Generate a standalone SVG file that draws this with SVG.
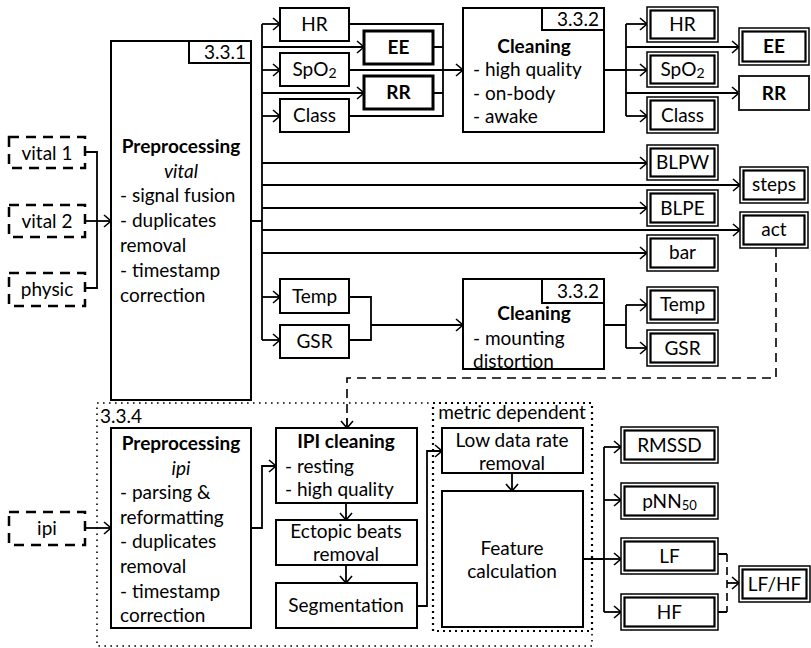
<svg xmlns="http://www.w3.org/2000/svg" width="811" height="648" viewBox="0 0 811 648">
  <style>
    .box { fill: #fff; stroke: #000; stroke-width: 2; }
    .bold-box { fill: #fff; stroke: #000; stroke-width: 3; }
    .out-o { fill: #fff; stroke: #000; stroke-width: 1.5; }
    .out-i { fill: none; stroke: #000; stroke-width: 2.2; }
    .inp { fill: #fff; stroke: #000; stroke-width: 2.5; stroke-dasharray: 10 7; }
    .wire { fill: none; stroke: #000; stroke-width: 1.8; }
    .arrow { fill: none; stroke: #000; stroke-width: 1.8; marker-end: url(#arr); }
    .dash { fill: none; stroke: #000; stroke-width: 1.6; stroke-dasharray: 9 6; }
    .dots { fill: none; stroke: #000; stroke-width: 1.6; stroke-dasharray: 1.6 4.4; }
    .dots-b { fill: none; stroke: #000; stroke-width: 2.2; stroke-dasharray: 2 4; }
    text { font-family: Lato, "Liberation Sans", sans-serif; font-size: 19px; fill: #000; }
    .c { text-anchor: middle; }
    .e { text-anchor: end; }
    .b { font-weight: bold; }
    .i { font-style: italic; }
  </style>
  <defs>
    <marker id="arr" markerUnits="userSpaceOnUse" markerWidth="12" markerHeight="14" refX="9" refY="7" orient="auto" overflow="visible">
      <path d="M2,1 L9,7 L2,13" fill="none" stroke="#000" stroke-width="1.6"/>
    </marker>
  </defs>

  <!-- section frames -->
  <g id="frames">
    <rect class="dots" x="97" y="403" width="495" height="243"/>
    <rect class="dots-b" x="433" y="403" width="159" height="228"/>
    <text x="100" y="423">3.3.4</text>
    <text x="512" y="419" class="c">metric dependent</text>
  </g>

  <!-- connectors -->
  <g id="connectors">
    <!-- raw inputs into vital preprocessing -->
    <path class="wire" d="M85,152 H97 V288 H85"/>
    <path class="arrow" d="M85,221 H111"/>
    <!-- vital preprocessing fan-out -->
    <path class="wire" d="M251,221 H262 M262,24 V340"/>
    <path class="arrow" d="M262,24 H280"/>
    <path class="arrow" d="M262,47 H364"/>
    <path class="arrow" d="M262,70 H280"/>
    <path class="arrow" d="M262,93 H364"/>
    <path class="arrow" d="M262,116 H280"/>
    <path class="arrow" d="M262,163 H647"/>
    <path class="arrow" d="M262,185 H740"/>
    <path class="arrow" d="M262,208 H647"/>
    <path class="arrow" d="M262,230 H740"/>
    <path class="arrow" d="M262,253 H647"/>
    <path class="arrow" d="M262,297 H280"/>
    <path class="arrow" d="M262,340 H280"/>
    <!-- collect vital signals into cleaning -->
    <path class="wire" d="M349,24 H443 V116 H349 M433,47 H443 M433,93 H443"/>
    <path class="arrow" d="M349,70 H463"/>
    <!-- cleaned vital signals -->
    <path class="wire" d="M604,70 H626 M626,24 V116"/>
    <path class="arrow" d="M626,24 H647"/>
    <path class="arrow" d="M626,47 H739"/>
    <path class="arrow" d="M626,70 H647"/>
    <path class="arrow" d="M626,93 H739"/>
    <path class="arrow" d="M626,116 H647"/>
    <!-- temp / gsr cleaning -->
    <path class="wire" d="M349,297 H371 V340 H349"/>
    <path class="arrow" d="M371,325 H463"/>
    <path class="wire" d="M604,325 H626 M626,305 V348"/>
    <path class="arrow" d="M626,305 H647"/>
    <path class="arrow" d="M626,348 H647"/>
    <!-- activity into ipi cleaning -->
    <path class="dash" d="M776,248 V378 H347 V420"/>
    <path class="arrow" d="M347,418 V428"/>
    <!-- ipi chain -->
    <path class="arrow" d="M85,528 H111"/>
    <path class="arrow" d="M251,528 H262 V466 H276"/>
    <path class="arrow" d="M346,503 V520"/>
    <path class="arrow" d="M346,565 V583"/>
    <path class="arrow" d="M417,606 H427 V451 H442"/>
    <path class="arrow" d="M512,473 V491"/>
    <!-- hrv features -->
    <path class="wire" d="M583,559 H604 M604,447 V612"/>
    <path class="arrow" d="M604,447 H621"/>
    <path class="arrow" d="M604,500 H621"/>
    <path class="arrow" d="M604,559 H621"/>
    <path class="arrow" d="M604,612 H621"/>
    <path class="wire" d="M718,554 H727 M718,612 H727"/>
    <path class="dash" d="M727,554 V612" style="stroke-dasharray: 8 5"/>
    <path class="arrow" d="M727,583 H739"/>
  </g>

  <!-- raw inputs -->
  <g id="vital1"><rect class="inp" x="9" y="137" width="76" height="31"/><text x="47" y="160" class="c">vital 1</text></g>
  <g id="vital2"><rect class="inp" x="9" y="205" width="76" height="32"/><text x="47" y="228" class="c">vital 2</text></g>
  <g id="physic"><rect class="inp" x="9" y="273" width="76" height="33"/><text x="47" y="296" class="c">physic</text></g>
  <g id="ipi"><rect class="inp" x="9" y="512" width="76" height="33"/><text x="47" y="535" class="c">ipi</text></g>

  <!-- vital preprocessing -->
  <g id="prep-vital">
    <rect class="box" x="111" y="41" width="140" height="359"/>
    <rect class="box" x="189" y="41" width="62" height="22"/>
    <text x="246" y="59" class="e">3.3.1</text>
    <text x="181" y="153" class="c b">Preprocessing</text>
    <text x="181" y="178" class="c i">vital</text>
    <text x="120" y="202">- signal fusion</text>
    <text x="120" y="227">- duplicates</text>
    <text x="120" y="252">removal</text>
    <text x="120" y="277">- timestamp</text>
    <text x="120" y="302">correction</text>
  </g>

  <!-- raw vital signals -->
  <g id="hr-raw"><rect class="box" x="280" y="8" width="69" height="33"/><text x="314.5" y="31" class="c">HR</text></g>
  <g id="spo2-raw"><rect class="box" x="280" y="53" width="69" height="33"/><text x="314.5" y="76" class="c">SpO<tspan font-size="14" dy="2">2</tspan></text></g>
  <g id="class-raw"><rect class="box" x="280" y="99" width="69" height="33"/><text x="314.5" y="122" class="c">Class</text></g>
  <g id="ee-raw"><rect class="bold-box" x="364" y="31" width="69" height="33"/><text x="398.5" y="54" class="c b">EE</text></g>
  <g id="rr-raw"><rect class="bold-box" x="364" y="76" width="69" height="33"/><text x="398.5" y="99" class="c b">RR</text></g>
  <g id="temp-raw"><rect class="box" x="280" y="279" width="69" height="34"/><text x="314.5" y="303" class="c">Temp</text></g>
  <g id="gsr-raw"><rect class="box" x="280" y="325" width="69" height="33"/><text x="314.5" y="348" class="c">GSR</text></g>

  <!-- vital cleaning -->
  <g id="clean-vital">
    <rect class="box" x="463" y="8" width="141" height="124"/>
    <rect class="box" x="542" y="8" width="62" height="22"/>
    <text x="599" y="26" class="e">3.3.2</text>
    <text x="534" y="53" class="c b">Cleaning</text>
    <text x="473" y="76">- high quality</text>
    <text x="473" y="100">- on-body</text>
    <text x="473" y="123">- awake</text>
  </g>

  <!-- temp / gsr cleaning -->
  <g id="clean-temp">
    <rect class="box" x="463" y="279" width="141" height="90"/>
    <rect class="box" x="542" y="279" width="62" height="24"/>
    <text x="599" y="298" class="e">3.3.2</text>
    <text x="534" y="320" class="c b">Cleaning</text>
    <text x="473" y="345">- mounting</text>
    <text x="473" y="368">distortion</text>
  </g>

  <!-- cleaned outputs -->
  <g id="hr"><rect class="out-o" x="647" y="7" width="71" height="35"/><rect class="out-i" x="650.5" y="10.5" width="64" height="28"/><text x="682.5" y="31" class="c">HR</text></g>
  <g id="ee"><rect class="out-o" x="739" y="28" width="70" height="37"/><rect class="out-i" x="742.5" y="31.5" width="63" height="30"/><text x="774" y="53" class="c b">EE</text></g>
  <g id="spo2"><rect class="out-o" x="647" y="52" width="71" height="35"/><rect class="out-i" x="650.5" y="55.5" width="64" height="28"/><text x="682.5" y="76" class="c">SpO<tspan font-size="14" dy="2">2</tspan></text></g>
  <g id="rr"><rect class="box" x="739" y="76" width="70" height="34" style="stroke:#222"/><text x="774" y="100" class="c b">RR</text></g>
  <g id="class"><rect class="out-o" x="647" y="97" width="71" height="36"/><rect class="out-i" x="650.5" y="100.5" width="64" height="29"/><text x="682.5" y="122" class="c">Class</text></g>
  <g id="blpw"><rect class="out-o" x="647" y="145" width="71" height="35"/><rect class="out-i" x="650.5" y="148.5" width="64" height="28"/><text x="682.5" y="169" class="c">BLPW</text></g>
  <g id="steps"><rect class="out-o" x="740" y="167" width="68" height="36"/><rect class="out-i" x="743.5" y="170.5" width="61" height="29"/><text x="774" y="191" class="c">steps</text></g>
  <g id="blpe"><rect class="out-o" x="647" y="190" width="71" height="36"/><rect class="out-i" x="650.5" y="193.5" width="64" height="29"/><text x="682.5" y="215" class="c">BLPE</text></g>
  <g id="act"><rect class="out-o" x="740" y="212" width="68" height="36"/><rect class="out-i" x="743.5" y="215.5" width="61" height="29"/><text x="774" y="236" class="c">act</text></g>
  <g id="bar"><rect class="out-o" x="647" y="235" width="71" height="36"/><rect class="out-i" x="650.5" y="238.5" width="64" height="29"/><text x="682.5" y="259" class="c">bar</text></g>
  <g id="temp"><rect class="out-o" x="647" y="287" width="71" height="36"/><rect class="out-i" x="650.5" y="290.5" width="64" height="29"/><text x="682.5" y="311" class="c">Temp</text></g>
  <g id="gsr"><rect class="out-o" x="647" y="330" width="71" height="36"/><rect class="out-i" x="650.5" y="333.5" width="64" height="29"/><text x="682.5" y="355" class="c">GSR</text></g>

  <!-- ipi preprocessing -->
  <g id="prep-ipi">
    <rect class="box" x="111" y="428" width="140" height="200"/>
    <text x="181" y="450" class="c b">Preprocessing</text>
    <text x="181" y="475" class="c i">ipi</text>
    <text x="120" y="499">- parsing &amp;</text>
    <text x="120" y="524">reformatting</text>
    <text x="120" y="548">- duplicates</text>
    <text x="120" y="573">removal</text>
    <text x="120" y="598">- timestamp</text>
    <text x="120" y="622">correction</text>
  </g>

  <g id="ipi-clean">
    <rect class="box" x="276" y="428" width="141" height="75"/>
    <text x="346" y="448" class="c b">IPI cleaning</text>
    <text x="285" y="473">- resting</text>
    <text x="285" y="496">- high quality</text>
  </g>
  <g id="ectopic">
    <rect class="box" x="276" y="520" width="141" height="45"/>
    <text x="346" y="538" class="c">Ectopic beats</text>
    <text x="346" y="561" class="c">removal</text>
  </g>
  <g id="segmentation">
    <rect class="box" x="276" y="583" width="141" height="45"/>
    <text x="346" y="612" class="c">Segmentation</text>
  </g>
  <g id="low-rate">
    <rect class="box" x="442" y="428" width="141" height="45"/>
    <text x="512" y="447" class="c">Low data rate</text>
    <text x="512" y="470" class="c">removal</text>
  </g>
  <g id="features">
    <rect class="box" x="442" y="491" width="141" height="136"/>
    <text x="512" y="555" class="c">Feature</text>
    <text x="512" y="578" class="c">calculation</text>
  </g>

  <!-- hrv outputs -->
  <g id="rmssd"><rect class="out-o" x="621" y="427" width="97" height="36"/><rect class="out-i" x="624.5" y="430.5" width="90" height="29"/><text x="669.5" y="452" class="c">RMSSD</text></g>
  <g id="pnn50"><rect class="out-o" x="621" y="483" width="97" height="36"/><rect class="out-i" x="624.5" y="486.5" width="90" height="29"/><text x="669.5" y="508" class="c">pNN<tspan font-size="13" dy="2">50</tspan></text></g>
  <g id="lf"><rect class="out-o" x="621" y="538" width="97" height="36"/><rect class="out-i" x="624.5" y="541.5" width="90" height="29"/><text x="669.5" y="563" class="c">LF</text></g>
  <g id="hf"><rect class="out-o" x="621" y="594" width="97" height="36"/><rect class="out-i" x="624.5" y="597.5" width="90" height="29"/><text x="669.5" y="619" class="c">HF</text></g>
  <g id="lfhf"><rect class="out-o" x="739" y="566" width="71" height="36"/><rect class="out-i" x="742.5" y="569.5" width="64" height="29"/><text x="774.5" y="591" class="c">LF/HF</text></g>
</svg>
